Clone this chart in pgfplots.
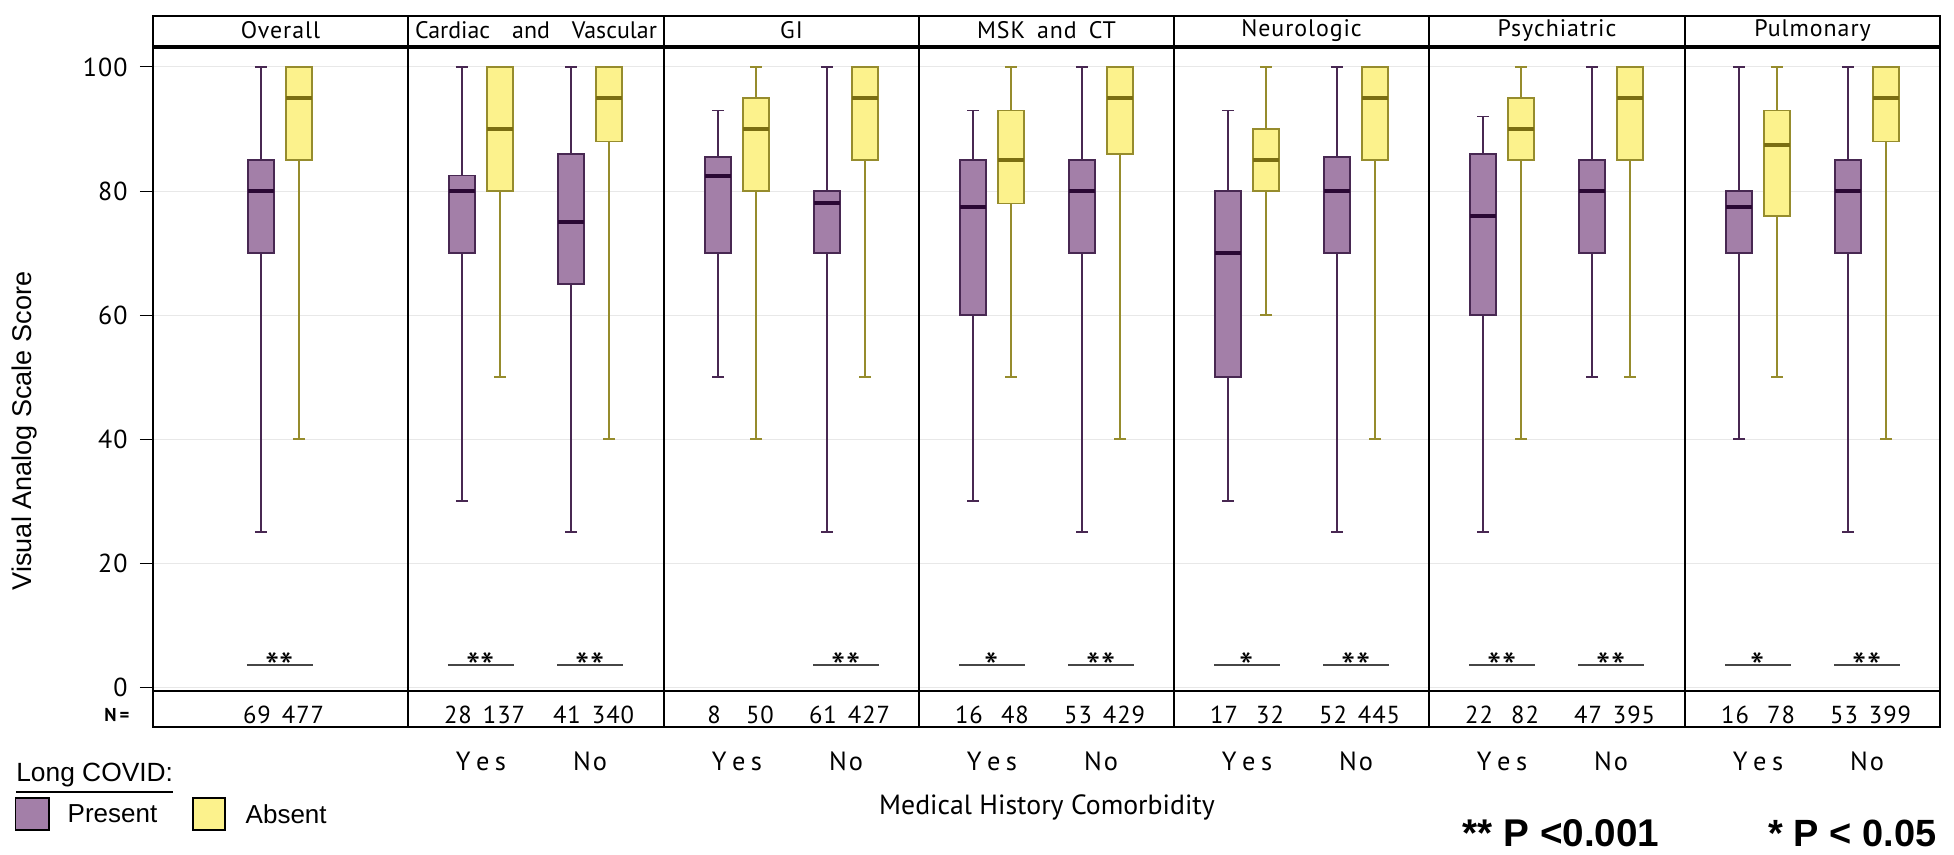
\documentclass[border=0pt]{standalone}
\usepackage{pgfplots}
\pgfplotsset{compat=1.18}
\usepgfplotslibrary{statistics}
\usepackage{fontspec}
\setmainfont{Liberation Sans}
\newfontfamily\pts[LetterSpace=4]{PT Sans}
\newfontfamily\ptsn{PT Sans}

\definecolor{pfill}{RGB}{163,127,168}
\definecolor{pline}{RGB}{72,40,82}
\definecolor{pmed}{RGB}{42,8,52}
\definecolor{afill}{RGB}{252,242,140}
\definecolor{aline}{RGB}{150,140,45}
\definecolor{amed}{RGB}{122,110,18}
\definecolor{gridc}{RGB}{232,232,232}
\definecolor{sigc}{RGB}{70,70,70}

\newcommand{\PB}[6]{%
\addplot[draw=pline, fill=pfill, line width=0.15mm,
  boxplot/draw direction=y,
  boxplot/every median/.style={draw=pmed, line width=0.4mm},
  boxplot/every whisker/.style={draw=pline, line width=0.12mm},
  boxplot prepared={draw position=#1, lower whisker=#2, lower quartile=#3, median=#4, upper quartile=#5, upper whisker=#6, box extend=26, whisker extend=12}] coordinates {};}
\newcommand{\AB}[6]{%
\addplot[draw=aline, fill=afill, line width=0.15mm,
  boxplot/draw direction=y,
  boxplot/every median/.style={draw=amed, line width=0.4mm},
  boxplot/every whisker/.style={draw=aline, line width=0.12mm},
  boxplot prepared={draw position=#1, lower whisker=#2, lower quartile=#3, median=#4, upper quartile=#5, upper whisker=#6, box extend=26, whisker extend=12}] coordinates {};}
\newcommand{\NL}[2]{\node[font=\pts\fontsize{7}{8}\selectfont] at (axis cs:#1,-4.52) {#2};}
\newcommand{\SIG}[2]{\draw[sigc, line width=0.2mm] (axis cs:#1-33,3.55) -- (axis cs:#1+33,3.55);
  \node[anchor=base, inner sep=0pt, font=\ptsn\fontsize{11.5}{12}\selectfont] at (axis cs:#1,0.9) {#2};}
\newcommand{\YES}[1]{\node[font=\ptsn\fontsize{7.5}{9}\selectfont] at (axis cs:#1,-11.94) {Y\kern0.55mm e\kern0.55mm s};}
\newcommand{\NO}[1]{\node[font=\ptsn\fontsize{7.5}{9}\selectfont] at (axis cs:#1,-11.94) {N\kern0.2mm o};}
\newcommand{\HDR}[2]{\node[font=\pts\fontsize{6.8}{8}\selectfont] at (axis cs:#1,105.9) {#2};}
\newcommand{\SEP}[1]{\draw[line width=0.25mm] (axis cs:#1,108.23) -- (axis cs:#1,-6.45);}

\begin{document}
\begin{tikzpicture}
\begin{axis}[
  scale only axis, width=178.7mm, height=64.4mm,
  xmin=0, xmax=1787, ymin=-0.645, ymax=103.225,
  axis line style={draw=black, line width=0.2mm},
  xtick=\empty,
  ytick={0,20,...,100},
  ytick pos=left,
  ymajorgrids, grid style={gridc, line width=0.1mm},
  tick style={black, line width=0.1mm},
  major tick length=1.3mm,
  tick align=outside,
  /pgf/number format/assume math mode=true,
  yticklabel style={font=\pts\fontsize{7.4}{8}\selectfont},
  clip=false,
]
% Overall
\PB{108}{25}{70}{80}{85}{100}
\AB{146}{40}{85}{95}{100}{100}
% Cardiac and Vascular
\PB{309}{30}{70}{80}{82.5}{100}
\AB{347}{50}{80}{90}{100}{100}
\PB{418}{25}{65}{75}{86}{100}
\AB{456}{40}{88}{95}{100}{100}
% GI
\PB{565}{50}{70}{82.5}{85.5}{93}
\AB{603}{40}{80}{90}{95}{100}
\PB{674}{25}{70}{78}{80}{100}
\AB{712}{50}{85}{95}{100}{100}
% MSK and CT
\PB{820}{30}{60}{77.5}{85}{93}
\AB{858}{50}{78}{85}{93}{100}
\PB{929}{25}{70}{80}{85}{100}
\AB{967}{40}{86}{95}{100}{100}
% Neurologic
\PB{1075}{30}{50}{70}{80}{93}
\AB{1113}{60}{80}{85}{90}{100}
\PB{1184}{25}{70}{80}{85.5}{100}
\AB{1222}{40}{85}{95}{100}{100}
% Psychiatric
\PB{1330}{25}{60}{76}{86}{92}
\AB{1368}{40}{85}{90}{95}{100}
\PB{1439}{50}{70}{80}{85}{100}
\AB{1477}{50}{85}{95}{100}{100}
% Pulmonary
\PB{1586}{40}{70}{77.5}{80}{100}
\AB{1624}{50}{76}{87.5}{93}{100}
\PB{1695}{25}{70}{80}{85}{100}
\AB{1733}{40}{88}{95}{100}{100}

% header and N row frames
\draw[line width=0.2mm] (axis cs:0,103.225) rectangle (axis cs:1787,108.23);
\draw[line width=0.35mm] (axis cs:0,103.225) -- (axis cs:1787,103.225);
\draw[line width=0.2mm] (axis cs:0,-0.645) rectangle (axis cs:1787,-6.45);
\SEP{255}\SEP{511}\SEP{766}\SEP{1021}\SEP{1276}\SEP{1532}
\HDR{127.5}{Overall}
\node[font=\ptsn\fontsize{6.8}{8}\selectfont] at (axis cs:383,105.9) {Cardiac\hspace{2.2mm}and\hspace{2.2mm}Vascular};
\HDR{638.5}{GI}
\HDR{893.5}{MSK\hspace{1.2mm}and\hspace{1.2mm}CT}
\HDR{1148.5}{Neurologic}
\HDR{1404}{Psychiatric}
\HDR{1659.5}{Pulmonary}

% N row
\node[font=\ptsn\bfseries\fontsize{5.3}{6}\selectfont] at (axis cs:-36,-4.52) {N\,=};
\NL{104}{69}\NL{150}{477}
\NL{305}{28}\NL{351}{137}\NL{414}{41}\NL{460}{340}
\NL{561}{8}\NL{607}{50}\NL{670}{61}\NL{716}{427}
\NL{816}{16}\NL{862}{48}\NL{925}{53}\NL{971}{429}
\NL{1071}{17}\NL{1117}{32}\NL{1180}{52}\NL{1226}{445}
\NL{1326}{22}\NL{1372}{82}\NL{1435}{47}\NL{1481}{395}
\NL{1582}{16}\NL{1628}{78}\NL{1691}{53}\NL{1737}{399}

% significance
\SIG{127}{**}
\SIG{328}{**}\SIG{437}{**}
\SIG{693}{**}
\SIG{839}{*}\SIG{948}{**}
\SIG{1094}{*}\SIG{1203}{**}
\SIG{1349}{**}\SIG{1458}{**}
\SIG{1605}{*}\SIG{1714}{**}

% Yes / No
\YES{328}\NO{437}
\YES{584}\NO{693}
\YES{839}\NO{948}
\YES{1094}\NO{1203}
\YES{1349}\NO{1458}
\YES{1605}\NO{1714}

\node[font=\ptsn\fontsize{7.9}{9}\selectfont] at (axis cs:894,-19.35) {Medical History Comorbidity};
\node[rotate=90, font=\fontsize{7.7}{9}\selectfont] at (axis cs:-128,41.3) {Visual Analog Scale Score};

% legend
\node[anchor=west, inner sep=0pt, font=\fontsize{7.5}{9}\selectfont] at (axis cs:-137.4,-14.8) {\underline{Long COVID:}};
\draw[draw=black, fill=pfill, line width=0.15mm] (axis cs:-137.4,-17.9) rectangle (axis cs:-104,-23.06);
\node[anchor=west, inner sep=0pt, font=\fontsize{7.4}{9}\selectfont] at (axis cs:-86,-20.5) {Present};
\draw[draw=black, fill=afill, line width=0.15mm] (axis cs:40,-17.9) rectangle (axis cs:72,-23.06);
\node[anchor=west, inner sep=0pt, font=\fontsize{7.4}{9}\selectfont] at (axis cs:92,-20.5) {Absent};

\node[anchor=base west, inner sep=0pt, font=\bfseries\fontsize{11}{12}\selectfont] at (axis cs:1309,-25.7) {** P <0.001};
\node[anchor=base east, inner sep=0pt, font=\bfseries\fontsize{10.8}{12}\selectfont] at (axis cs:1784,-25.7) {* P < 0.05};

\coordinate (BL) at (axis cs:-153,-26.94);
\coordinate (TR) at (axis cs:1801,110.81);
\end{axis}
\pgfresetboundingbox
\useasboundingbox (BL) rectangle (TR);
\end{tikzpicture}
\end{document}
